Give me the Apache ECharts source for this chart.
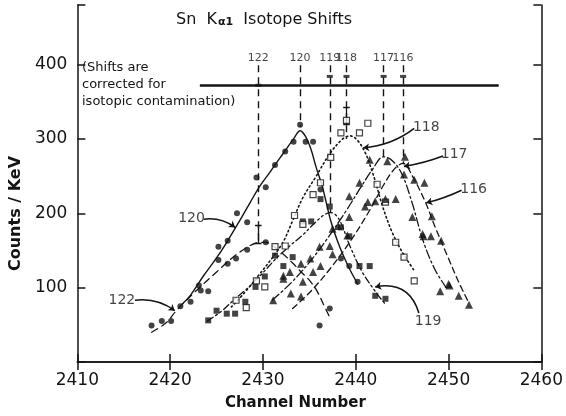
<!DOCTYPE html>
<html>
<head>
<meta charset="utf-8">
<script src="https://cdn.jsdelivr.net/npm/echarts@6/dist/echarts.min.js"></script>
<style>
  html, body { margin: 0; padding: 0; background: #fff; }
  #chart { width: 566px; height: 416px; }
</style>
</head>
<body>
<div id="chart"></div>
<script>
// isotopes, their fitted centroid channels and where the dashed markers stop
const isotopes = ['122', '120', '119', '118', '117', '116'];
const isoChannels = [2429.5, 2434.0, 2437.2, 2439.0, 2443.0, 2445.1];
const isoLineBottoms = [159, 316, 201, 300, 276, 266];
const isoLabelCounts = [409, 409, 409, 409, 409, 409];
const shiftMarkChannels = [2429.5, 2437.2, 2439.0, 2443.0, 2445.1];
const shiftMarkCounts = [372, 384, 384, 384, 384];

// fitted curves (channel, counts/keV)
const fit122 = [[2418.0, 40], [2419.5, 52], [2420.6, 68], [2422, 86], [2423.5, 104], [2425, 121], [2426.5, 138], [2428, 152], [2429.3, 160], [2430.3, 161], [2431.2, 155], [2432.2, 145], [2433.2, 133], [2434.2, 120], [2435.0, 110], [2435.8, 96], [2436.5, 78], [2437.2, 60]];
const fit120 = [[2421.3, 78], [2422.2, 90], [2423.6, 116], [2425.0, 140], [2426.1, 161], [2427.4, 188], [2428.6, 214], [2429.7, 237], [2430.8, 256], [2431.7, 272], [2432.5, 286], [2433.3, 300], [2434.0, 311], [2434.6, 303], [2435.2, 285], [2435.7, 263], [2436.4, 236], [2437.3, 190], [2438.3, 154], [2439.3, 126], [2440.2, 105]];
const fit119 = [[2424.0, 55], [2425.5, 68], [2427.0, 85], [2428.5, 101], [2430.0, 120], [2431.4, 139], [2432.8, 155], [2434.3, 171], [2435.5, 186], [2436.5, 197], [2437.3, 201], [2438.2, 192], [2439.3, 158], [2440.7, 121], [2442.1, 95], [2443.1, 79]];
const fit118 = [[2426.6, 74], [2428.0, 93], [2429.5, 116], [2431.0, 140], [2432.2, 162], [2433.2, 190], [2434.3, 221], [2435.7, 249], [2437.2, 280], [2438.6, 300], [2439.4, 304], [2440.7, 289], [2441.8, 255], [2442.9, 209], [2443.9, 175], [2445.0, 148], [2446.4, 121]];
const fit117 = [[2431.0, 83], [2433.0, 106], [2435.0, 134], [2437.0, 167], [2439.0, 204], [2440.5, 234], [2441.8, 259], [2443.0, 276], [2444.0, 270], [2445.0, 252], [2446.1, 213], [2447.2, 165], [2448.5, 125], [2449.8, 99]];
const fit116 = [[2433.2, 72], [2435.3, 97], [2437.4, 128], [2439.5, 164], [2441.5, 204], [2443.0, 238], [2444.2, 260], [2445.1, 267], [2446.1, 250], [2447.5, 215], [2448.5, 183], [2450.0, 139], [2451.0, 110], [2452.2, 79]];

// measured points
const pts122 = [[2418.0, 49], [2419.1, 55], [2420.1, 55], [2421.1, 75], [2424.1, 95], [2426.2, 132], [2427.1, 139], [2428.3, 151], [2430.3, 161], [2436.1, 49], [2437.2, 72]];
const pts120 = [[2422.2, 81], [2423.1, 103], [2423.3, 96], [2425.2, 137], [2425.2, 155], [2426.2, 163], [2427.2, 200], [2428.3, 188], [2429.3, 248], [2430.3, 235], [2431.3, 265], [2432.4, 283], [2433.3, 296], [2434.0, 319], [2434.6, 296], [2435.4, 296], [2436.2, 232], [2438.4, 139], [2439.3, 129], [2440.2, 108]];
const pts119 = [[2424.1, 56], [2425.0, 69], [2426.1, 65], [2427.0, 65], [2428.1, 81], [2429.2, 101], [2430.2, 115], [2431.3, 143], [2432.2, 129], [2433.2, 141], [2434.3, 189], [2435.2, 189], [2436.2, 219], [2437.2, 209], [2438.4, 181], [2439.3, 169], [2440.4, 129], [2441.5, 129], [2442.1, 89], [2443.2, 85]];
const pts118 = [[2427.1, 83], [2428.2, 73], [2429.3, 109], [2430.2, 101], [2431.3, 155], [2432.4, 156], [2433.4, 197], [2434.3, 185], [2435.4, 225], [2436.2, 241], [2437.3, 275], [2438.4, 308], [2439.0, 325], [2440.4, 308], [2441.3, 321], [2442.3, 239], [2443.2, 215], [2444.3, 161], [2445.2, 141], [2446.3, 109]];
const pts117 = [[2431.1, 83], [2432.2, 116], [2432.9, 121], [2434.1, 132], [2435.1, 139], [2436.1, 155], [2437.2, 156], [2437.5, 179], [2438.1, 183], [2439.3, 223], [2440.4, 241], [2441.5, 272], [2443.4, 270], [2445.2, 252], [2446.1, 195], [2447.3, 169], [2448.1, 169], [2449.1, 95], [2450.0, 105]];
const pts116 = [[2432.2, 112], [2433.0, 92], [2434.1, 88], [2434.3, 108], [2435.4, 121], [2436.2, 129], [2437.5, 145], [2439.1, 170], [2439.3, 195], [2441.0, 209], [2441.3, 215], [2442.1, 216], [2443.2, 219], [2444.3, 219], [2445.3, 276], [2446.3, 245], [2447.4, 241], [2447.2, 172], [2448.2, 196], [2449.2, 163], [2450.1, 103], [2451.1, 89], [2452.2, 77]];

// error bars (channel, low, high)
const errChannels = [2429.5, 2439.0];
const errLows = [159, 319];
const errHighs = [184, 343];

// curve labels and their arrows
const labelPos = [[2414.8, 83], [2422.3, 193], [2447.8, 54], [2447.6, 315], [2450.6, 279], [2452.7, 232]];
const arrowFrom = [[2416.2, 83], [2423.6, 192], [2446.8, 66], [2446.3, 314], [2449.4, 277], [2451.4, 231]];
const arrowTo = [[2420.5, 69], [2427.0, 181], [2442.1, 101], [2440.8, 288], [2445.2, 263], [2447.6, 214]];
const arrowBend = [0.2, 0.2, -0.45, 0.15, 0.05, 0.05];

// horizontal reference bar
const barStart = [2423.2, 372];
const barEnd = [2455.4, 372];

const FONT = 'DejaVu Sans';
const INK = '#141414';

const chart = echarts.init(document.getElementById('chart'));

const fitLine = (name, data, type, width) => ({
  name, type: 'line', data, smooth: 0.35, showSymbol: false, silent: true,
  lineStyle: { color: INK, width: width || 1.3, type: type, cap: 'round' },
  z: 3,
});

const points = (name, data, symbol, size, hollow) => ({
  name, type: 'scatter', data, symbol, symbolSize: size, silent: true,
  itemStyle: hollow
    ? { color: '#fff', borderColor: INK, borderWidth: 1.2 }
    : { color: INK },
  z: 5,
});

const segments = (name, data, style, extra) => Object.assign({
  name, type: 'lines', coordinateSystem: 'cartesian2d', data, silent: true,
  lineStyle: Object.assign({ color: INK, width: 1.3, opacity: 1 }, style),
  z: 4,
}, extra || {});

const vlines = isoChannels.map((c, i) => ({ coords: [[c, 399], [c, isoLineBottoms[i]]] }));

const errBars = [];
errChannels.forEach((c, i) => {
  errBars.push({ coords: [[c, errLows[i]], [c, errHighs[i]]] });
  errBars.push({ coords: [[c - 0.35, errHighs[i]], [c + 0.35, errHighs[i]]] });
  errBars.push({ coords: [[c - 0.35, errLows[i]], [c + 0.35, errLows[i]]] });
});

const arrows = isotopes.map((n, i) => ({
  coords: [arrowFrom[i], arrowTo[i]],
  lineStyle: { curveness: arrowBend[i] },
}));

const option = {
  animation: false,
  backgroundColor: '#fff',
  grid: { left: 73, right: 24, top: 5, bottom: 52 },
  xAxis: [
    {
      type: 'value', min: 2410, max: 2460, interval: 10, position: 'bottom',
      axisLine: { lineStyle: { color: INK, width: 1.5 } },
      axisTick: { inside: true, length: 8, lineStyle: { color: INK, width: 1.5 } },
      axisLabel: { color: INK, fontFamily: FONT, fontSize: 17, margin: 10, formatter: v => String(v) },
      splitLine: { show: false },
      name: 'Channel Number', nameLocation: 'middle', nameGap: 34,
      nameTextStyle: { color: INK, fontFamily: FONT, fontSize: 15, fontWeight: 'bold', padding: [0, 28, 0, 0] },
    },
    {
      type: 'value', min: 2410, max: 2460, interval: 10, position: 'top',
      axisLine: { lineStyle: { color: INK, width: 1.5 } },
      axisTick: { inside: true, length: 8, lineStyle: { color: INK, width: 1.5 } },
      axisLabel: { show: false }, splitLine: { show: false },
    },
  ],
  yAxis: [
    {
      type: 'value', min: 0, max: 480, interval: 100,
      axisLine: { show: true, lineStyle: { color: INK, width: 1.5 } },
      axisTick: { show: true, inside: true, length: 8, lineStyle: { color: INK, width: 1.5 } },
      axisLabel: {
        color: INK, fontFamily: FONT, fontSize: 17, margin: 10,
        formatter: v => (v >= 100 && v <= 400 ? String(v) : ''),
      },
      splitLine: { show: false },
      name: 'Counts / KeV', nameLocation: 'middle', nameGap: 52,
      nameTextStyle: { color: INK, fontFamily: FONT, fontSize: 16, fontWeight: 'bold', padding: [0, 60, 0, 0] },
    },
    {
      type: 'value', min: 0, max: 480, interval: 100, position: 'right',
      axisLine: { show: true, lineStyle: { color: INK, width: 1.5 } },
      axisTick: { show: true, inside: true, length: 8, lineStyle: { color: INK, width: 1.5 } },
      axisLabel: { show: false }, splitLine: { show: false },
    },
  ],
  graphic: [
    {
      type: 'text', left: 176, top: 12, silent: true,
      style: {
        text: '{a|Sn  K}{s|α1}{a|  Isotope Shifts}',
        rich: {
          a: { fontFamily: FONT, fontSize: 16, fill: INK, verticalAlign: 'bottom' },
          s: { fontFamily: FONT, fontSize: 11, fontWeight: 'bold', fill: INK, padding: [10, 0, 0, 1] },
        },
      },
    },
    {
      type: 'text', left: 82, top: 59, silent: true,
      style: {
        text: '(Shifts are\ncorrected for\nisotopic contamination)',
        fontFamily: FONT, fontSize: 13, lineHeight: 17, fill: INK,
      },
    },
  ],
  series: [
    fitLine('122', fit122, [7, 5]),
    fitLine('120', fit120, 'solid', 1.4),
    fitLine('119', fit119, [7, 3, 2, 3, 2, 3]),
    fitLine('118', fit118, [1.5, 3], 1.6),
    fitLine('117', fit117, [9, 3, 2, 3]),
    fitLine('116', fit116, [6, 4]),
    segments('centroids', vlines, { type: [7, 5], width: 1.4 }),
    segments('reference', [{ coords: [barStart, barEnd] }], { width: 2.6 }),
    segments('errors', errBars, { width: 1.3 }),
    segments('arrows', arrows, { width: 1.6 }, { symbol: ['none', 'arrow'], symbolSize: 6 }),
    points('pts122', pts122, 'circle', 6),
    points('pts120', pts120, 'circle', 6),
    points('pts119', pts119, 'rect', 6),
    points('pts118', pts118, 'rect', 6, true),
    points('pts117', pts117, 'triangle', 8),
    points('pts116', pts116, 'triangle', 8),
    {
      name: 'shiftMarks', type: 'scatter', silent: true, symbol: 'rect', symbolSize: [6, 3],
      data: shiftMarkChannels.map((c, i) => [c, shiftMarkCounts[i]]),
      itemStyle: { color: INK }, z: 6,
    },
    {
      name: 'isoLabels', type: 'scatter', silent: true, symbolSize: 0,
      data: isotopes.map((n, i) => ({ name: n, value: [isoChannels[i], isoLabelCounts[i]] })),
      label: { show: true, position: 'inside', formatter: '{b}', color: INK, fontFamily: FONT, fontSize: 11 },
      z: 6,
    },
    {
      name: 'curveLabels', type: 'scatter', silent: true, symbolSize: 0,
      data: isotopes.map((n, i) => ({ name: n, value: labelPos[i] })),
      label: { show: true, position: 'inside', formatter: '{b}', color: INK, fontFamily: FONT, fontSize: 14 },
      z: 6,
    },
  ],
};

chart.setOption(option);
</script>
</body>
</html>
